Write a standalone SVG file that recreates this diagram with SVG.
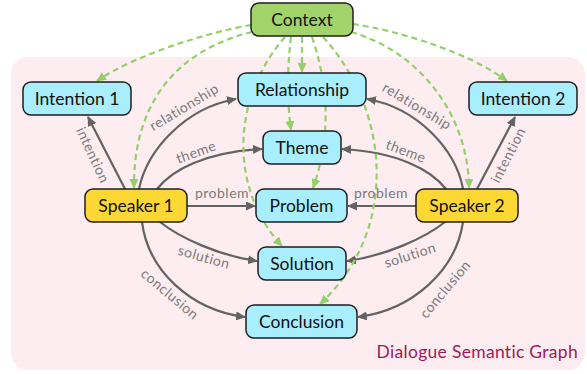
<svg xmlns="http://www.w3.org/2000/svg" width="587" height="374" viewBox="0 0 587 374">
<defs>
<style>
.node rect{stroke:#1e1e1e;stroke-width:1.5}
.node text{font-family:Lato,"Noto Sans",sans-serif;font-size:17.5px;fill:#111;text-anchor:middle}
.cyan rect{fill:#a8eefc}
.yel rect{fill:#fdd835}
.grn rect{fill:#a3d46c}
.e{fill:none;stroke:#636363;stroke-width:2.2}
.g{fill:none;stroke:#94d06a;stroke-width:2.2;stroke-dasharray:6 4}
.lab{font-family:Lato,"Noto Sans",sans-serif;font-size:14px;fill:#7a7a7a;text-anchor:middle;letter-spacing:0.5px}
</style>
<marker id="ah" markerUnits="userSpaceOnUse" markerWidth="10" markerHeight="9" viewBox="0 0 10 9" refX="9" refY="4.5" orient="auto"><path d="M0,0 L10,4.5 L0,9 z" fill="#636363"/></marker>
<marker id="gh" markerUnits="userSpaceOnUse" markerWidth="10" markerHeight="9" viewBox="0 0 10 9" refX="9" refY="4.5" orient="auto"><path d="M0,0 L10,4.5 L0,9 z" fill="#94d06a"/></marker>
</defs>
<rect x="11" y="57" width="574" height="313" rx="17" fill="#fdedf0"/>
<text x="578" y="358" text-anchor="end" font-family="Lato,'Noto Sans',sans-serif" font-size="17.5" letter-spacing="0.3" fill="#a0195a">Dialogue Semantic Graph</text>
<g id="connectors">
<path class="e" marker-end="url(#ah)" d="M125,189 L88,117"/>
<path class="e" marker-end="url(#ah)" d="M139,189 C147,150 185,108 236,99"/>
<path class="e" marker-end="url(#ah)" d="M157,189 C172,170 205,152 262,149"/>
<path class="e" marker-end="url(#ah)" d="M187,206 L255,206"/>
<path class="e" marker-end="url(#ah)" d="M160,222 C180,238 220,256 257,261"/>
<path class="e" marker-end="url(#ah)" d="M142,222 C148,270 190,310 245,317"/>
<path class="e" marker-end="url(#ah)" d="M477,189 L515,117"/>
<path class="e" marker-end="url(#ah)" d="M463,189 C456,150 418,108 367,99"/>
<path class="e" marker-end="url(#ah)" d="M446,189 C431,170 398,152 342,149"/>
<path class="e" marker-end="url(#ah)" d="M416,206 L348,206"/>
<path class="e" marker-end="url(#ah)" d="M445,222 C425,238 385,256 347,261"/>
<path class="e" marker-end="url(#ah)" d="M463,222 C456,270 413,310 358,317"/>
<path class="g" marker-end="url(#gh)" d="M251,25 C205,33 135,55 97,81"/>
<path class="g" marker-end="url(#gh)" d="M252,32 C185,48 133,95 134,188"/>
<path class="g" marker-end="url(#gh)" d="M353,24 C400,31 470,53 507,81"/>
<path class="g" marker-end="url(#gh)" d="M351,32 C415,50 468,110 469,188"/>
<path class="g" marker-end="url(#gh)" d="M302,37 L302,72"/>
<path class="g" marker-end="url(#gh)" d="M291,37 C287,70 287,100 291,130"/>
<path class="g" marker-end="url(#gh)" d="M312,37 C330,90 330,140 313,188"/>
<path class="g" marker-end="url(#gh)" d="M285,37 C230,100 230,190 282,246"/>
<path class="g" marker-end="url(#gh)" d="M323,37 C390,110 400,230 320,304"/>
<text class="lab" transform="translate(93,155) rotate(65)" y="5">intention</text>
<text class="lab" transform="translate(184,107) rotate(-31)" y="5">relationship</text>
<text class="lab" transform="translate(196,152) rotate(-20)" y="5">theme</text>
<text class="lab" x="222" y="198">problem</text>
<text class="lab" transform="translate(204,257) rotate(16)" y="5">solution</text>
<text class="lab" transform="translate(170,294) rotate(40)" y="5">conclusion</text>
<text class="lab" transform="translate(508,155) rotate(-63)" y="5">intention</text>
<text class="lab" transform="translate(417,106) rotate(31)" y="5">relationship</text>
<text class="lab" transform="translate(406,151) rotate(21)" y="5">theme</text>
<text class="lab" x="381" y="198">problem</text>
<text class="lab" transform="translate(410,255) rotate(-18)" y="5">solution</text>
<text class="lab" transform="translate(445,289) rotate(-50)" y="5">conclusion</text>
</g>
<g id="context" class="node grn"><rect x="251" y="3" width="102" height="33" rx="8"/><text x="302" y="25.5">Context</text></g>
<g id="relationship" class="node cyan"><rect x="238" y="73" width="128" height="33" rx="8"/><text x="302" y="95.5">Relationship</text></g>
<g id="theme" class="node cyan"><rect x="263" y="131" width="78" height="33" rx="8"/><text x="302" y="153.5">Theme</text></g>
<g id="problem" class="node cyan"><rect x="256" y="189" width="91" height="33" rx="8"/><text x="301.5" y="211.5">Problem</text></g>
<g id="solution" class="node cyan"><rect x="258" y="247" width="88" height="33" rx="8"/><text x="302" y="269.5">Solution</text></g>
<g id="conclusion" class="node cyan"><rect x="246" y="305" width="111" height="33" rx="8"/><text x="301.5" y="327.5">Conclusion</text></g>
<g id="intention1" class="node cyan"><rect x="23" y="82" width="108" height="33" rx="8"/><text x="77" y="104.5">Intention 1</text></g>
<g id="intention2" class="node cyan"><rect x="469" y="82" width="108" height="33" rx="8"/><text x="523" y="104.5">Intention 2</text></g>
<g id="speaker1" class="node yel"><rect x="85" y="189" width="102" height="33" rx="8"/><text x="136" y="211.5">Speaker 1</text></g>
<g id="speaker2" class="node yel"><rect x="416" y="189" width="102" height="33" rx="8"/><text x="467" y="211.5">Speaker 2</text></g>
</svg>
